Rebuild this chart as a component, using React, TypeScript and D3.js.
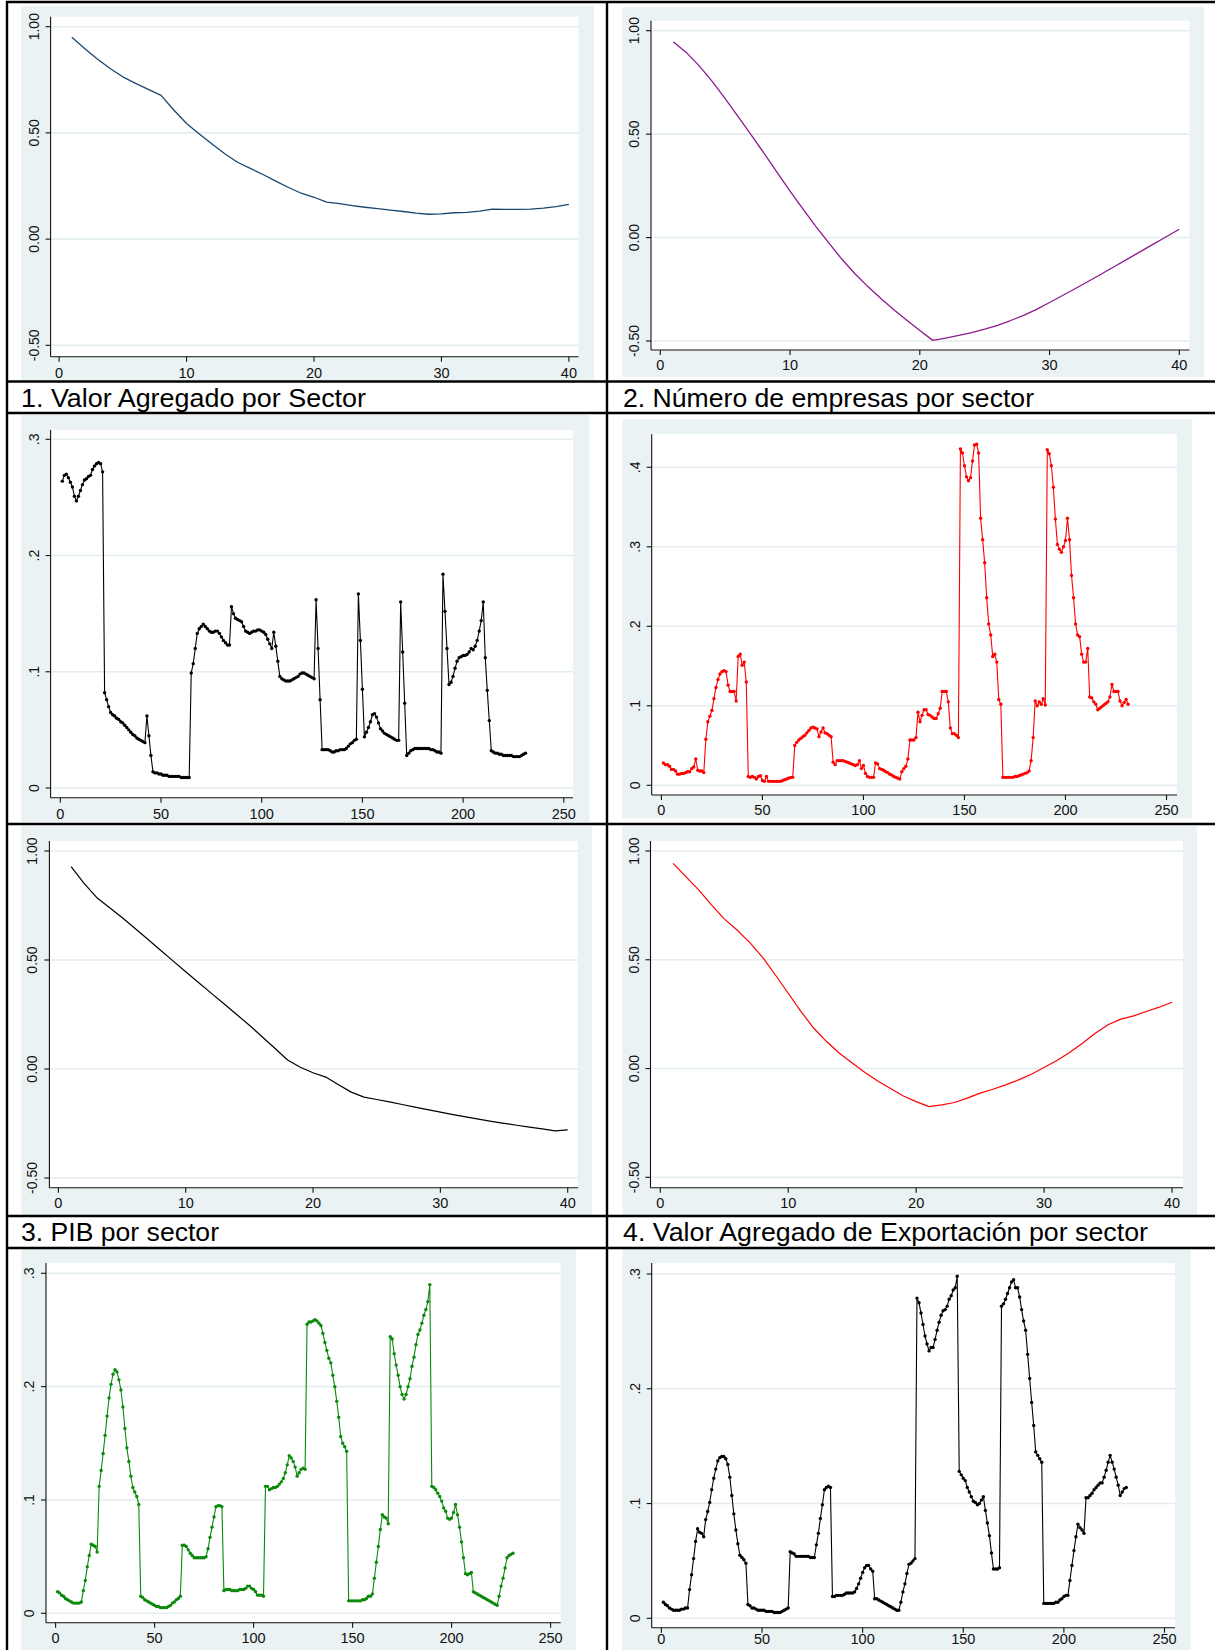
import React from "react";
import * as d3 from "d3";

// ---------- data ----------
const sectors40 = d3.range(1, 41);

const valorAgregado = [
  0.950, 0.897, 0.848, 0.803, 0.764, 0.733, 0.705, 0.677, 0.608, 0.544,
  0.495, 0.448, 0.402, 0.362, 0.333, 0.304, 0.273, 0.243, 0.216, 0.197,
  0.174, 0.167, 0.158, 0.150, 0.143, 0.136, 0.130, 0.122, 0.117, 0.119,
  0.124, 0.126, 0.132, 0.141, 0.140, 0.140, 0.141, 0.146, 0.153, 0.163,
];

const numeroEmpresas = [
  0.947, 0.895, 0.830, 0.755, 0.672, 0.585, 0.496, 0.407, 0.315, 0.224,
  0.137, 0.053, -0.027, -0.105, -0.175, -0.237, -0.295, -0.349, -0.400, -0.449,
  -0.497, -0.486, -0.473, -0.459, -0.443, -0.424, -0.401, -0.376, -0.347, -0.314,
  -0.280, -0.246, -0.211, -0.176, -0.140, -0.104, -0.068, -0.032, 0.004, 0.040,
];

const pibSector = [
  0.928, 0.853, 0.787, 0.741, 0.695, 0.646, 0.596, 0.546, 0.496, 0.446,
  0.397, 0.348, 0.299, 0.250, 0.201, 0.148, 0.095, 0.041, 0.008, -0.017,
  -0.037, -0.072, -0.106, -0.129, -0.140, -0.151, -0.163, -0.175, -0.186, -0.198,
  -0.209, -0.220, -0.230, -0.240, -0.249, -0.258, -0.267, -0.275, -0.284, -0.279,
];

const exportacion = [
  0.943, 0.882, 0.821, 0.752, 0.688, 0.637, 0.579, 0.511, 0.430, 0.346,
  0.262, 0.185, 0.124, 0.070, 0.025, -0.018, -0.057, -0.092, -0.126, -0.152,
  -0.175, -0.167, -0.156, -0.136, -0.113, -0.095, -0.075, -0.052, -0.026, 0.005,
  0.037, 0.074, 0.116, 0.162, 0.201, 0.227, 0.242, 0.262, 0.282, 0.305,
];

const densValorAgregado = [
  0.264, 0.269, 0.270, 0.267, 0.263, 0.259, 0.251, 0.247, 0.251, 0.256,
  0.261, 0.265, 0.266, 0.268, 0.269, 0.274, 0.277, 0.279, 0.280, 0.279,
  0.272, 0.082, 0.076, 0.070, 0.065, 0.063, 0.062, 0.060, 0.059, 0.057,
  0.056, 0.054, 0.052, 0.050, 0.048, 0.046, 0.045, 0.043, 0.042, 0.041,
  0.040, 0.039, 0.062, 0.045, 0.028, 0.014, 0.013, 0.013, 0.012, 0.012,
  0.011, 0.011, 0.011, 0.010, 0.010, 0.010, 0.010, 0.010, 0.010, 0.009,
  0.009, 0.009, 0.009, 0.009, 0.099, 0.107, 0.120, 0.133, 0.137, 0.139,
  0.141, 0.139, 0.137, 0.135, 0.134, 0.134, 0.135, 0.135, 0.133, 0.130,
  0.127, 0.125, 0.123, 0.123, 0.156, 0.150, 0.146, 0.145, 0.144, 0.143,
  0.139, 0.135, 0.134, 0.133, 0.134, 0.135, 0.135, 0.136, 0.136, 0.135,
  0.134, 0.132, 0.128, 0.124, 0.120, 0.134, 0.122, 0.109, 0.096, 0.094,
  0.093, 0.092, 0.092, 0.092, 0.093, 0.094, 0.095, 0.096, 0.098, 0.099,
  0.099, 0.098, 0.097, 0.096, 0.095, 0.094, 0.162, 0.120, 0.076, 0.033,
  0.033, 0.033, 0.033, 0.032, 0.031, 0.031, 0.032, 0.032, 0.033, 0.033,
  0.033, 0.034, 0.036, 0.038, 0.039, 0.041, 0.042, 0.167, 0.127, 0.085,
  0.044, 0.048, 0.052, 0.057, 0.063, 0.064, 0.061, 0.056, 0.051, 0.049,
  0.047, 0.046, 0.045, 0.044, 0.043, 0.042, 0.041, 0.041, 0.160, 0.117,
  0.073, 0.028, 0.030, 0.032, 0.033, 0.034, 0.034, 0.034, 0.034, 0.034,
  0.034, 0.034, 0.034, 0.033, 0.033, 0.032, 0.031, 0.031, 0.030, 0.184,
  0.152, 0.120, 0.089, 0.091, 0.096, 0.103, 0.109, 0.112, 0.113, 0.114,
  0.114, 0.115, 0.117, 0.120, 0.119, 0.122, 0.127, 0.135, 0.144, 0.160,
  0.112, 0.084, 0.058, 0.032, 0.031, 0.030, 0.030, 0.029, 0.029, 0.028,
  0.028, 0.028, 0.028, 0.028, 0.027, 0.027, 0.027, 0.027, 0.028, 0.029,
  0.030,
];

const densEmpresas = [
  0.028, 0.026, 0.026, 0.024, 0.020, 0.020, 0.018, 0.014, 0.014, 0.015,
  0.015, 0.016, 0.017, 0.017, 0.021, 0.023, 0.033, 0.019, 0.018, 0.018,
  0.016, 0.058, 0.080, 0.087, 0.094, 0.109, 0.123, 0.133, 0.140, 0.143,
  0.144, 0.143, 0.126, 0.118, 0.118, 0.118, 0.106, 0.162, 0.165, 0.151,
  0.155, 0.130, 0.011, 0.010, 0.011, 0.010, 0.008, 0.011, 0.012, 0.006,
  0.005, 0.011, 0.005, 0.005, 0.005, 0.005, 0.005, 0.005, 0.005, 0.006,
  0.007, 0.008, 0.009, 0.010, 0.010, 0.050, 0.054, 0.057, 0.059, 0.061,
  0.063, 0.066, 0.069, 0.072, 0.073, 0.072, 0.071, 0.061, 0.067, 0.072,
  0.066, 0.065, 0.063, 0.061, 0.029, 0.026, 0.031, 0.031, 0.031, 0.031,
  0.030, 0.029, 0.028, 0.027, 0.026, 0.025, 0.026, 0.031, 0.021, 0.025,
  0.015, 0.011, 0.010, 0.010, 0.010, 0.028, 0.027, 0.021, 0.020, 0.019,
  0.017, 0.016, 0.014, 0.013, 0.011, 0.010, 0.009, 0.008, 0.017, 0.021,
  0.024, 0.033, 0.057, 0.057, 0.057, 0.060, 0.092, 0.080, 0.088, 0.095,
  0.095, 0.089, 0.088, 0.086, 0.084, 0.084, 0.090, 0.097, 0.118, 0.118,
  0.118, 0.105, 0.072, 0.065, 0.065, 0.063, 0.060, 0.423, 0.418, 0.402,
  0.388, 0.383, 0.387, 0.408, 0.428, 0.429, 0.418, 0.336, 0.309, 0.280,
  0.236, 0.203, 0.189, 0.162, 0.165, 0.155, 0.108, 0.102, 0.010, 0.010,
  0.010, 0.010, 0.010, 0.010, 0.011, 0.011, 0.012, 0.013, 0.014, 0.015,
  0.016, 0.018, 0.031, 0.060, 0.106, 0.100, 0.105, 0.102, 0.109, 0.101,
  0.422, 0.417, 0.402, 0.375, 0.335, 0.303, 0.297, 0.293, 0.300, 0.308,
  0.336, 0.309, 0.264, 0.236, 0.203, 0.189, 0.187, 0.165, 0.155, 0.155,
  0.172, 0.111, 0.110, 0.105, 0.102, 0.095, 0.097, 0.099, 0.101, 0.103,
  0.105, 0.111, 0.127, 0.118, 0.118, 0.118, 0.106, 0.100, 0.104, 0.108,
  0.102,
];

const densPIB = [
  0.019, 0.018, 0.016, 0.015, 0.013, 0.012, 0.011, 0.010, 0.009, 0.009,
  0.009, 0.009, 0.010, 0.020, 0.029, 0.041, 0.051, 0.061, 0.060, 0.059,
  0.054, 0.112, 0.126, 0.141, 0.157, 0.174, 0.190, 0.202, 0.211, 0.215,
  0.213, 0.206, 0.197, 0.182, 0.163, 0.146, 0.134, 0.121, 0.111, 0.107,
  0.103, 0.096, 0.015, 0.014, 0.012, 0.011, 0.010, 0.009, 0.008, 0.007,
  0.006, 0.006, 0.005, 0.005, 0.005, 0.005, 0.006, 0.007, 0.009, 0.010,
  0.012, 0.013, 0.015, 0.060, 0.060, 0.059, 0.056, 0.053, 0.051, 0.049,
  0.049, 0.049, 0.049, 0.049, 0.049, 0.050, 0.057, 0.067, 0.076, 0.085,
  0.094, 0.095, 0.095, 0.094, 0.020, 0.021, 0.021, 0.021, 0.020, 0.020,
  0.020, 0.020, 0.021, 0.021, 0.021, 0.022, 0.024, 0.024, 0.022, 0.021,
  0.019, 0.016, 0.016, 0.016, 0.015, 0.112, 0.112, 0.109, 0.110, 0.111,
  0.111, 0.112, 0.114, 0.116, 0.119, 0.124, 0.131, 0.139, 0.137, 0.134,
  0.129, 0.121, 0.124, 0.127, 0.128, 0.127, 0.255, 0.257, 0.257, 0.258,
  0.259, 0.258, 0.256, 0.254, 0.247, 0.239, 0.232, 0.225, 0.221, 0.210,
  0.200, 0.187, 0.173, 0.156, 0.150, 0.147, 0.143, 0.011, 0.011, 0.011,
  0.011, 0.011, 0.011, 0.011, 0.012, 0.012, 0.013, 0.015, 0.015, 0.017,
  0.031, 0.045, 0.059, 0.074, 0.087, 0.085, 0.084, 0.079, 0.244, 0.242,
  0.229, 0.219, 0.210, 0.200, 0.193, 0.189, 0.193, 0.200, 0.207, 0.218,
  0.226, 0.237, 0.246, 0.250, 0.256, 0.263, 0.268, 0.275, 0.290, 0.112,
  0.111, 0.109, 0.106, 0.103, 0.099, 0.093, 0.090, 0.084, 0.083, 0.084,
  0.089, 0.096, 0.087, 0.076, 0.063, 0.049, 0.035, 0.034, 0.035, 0.036,
  0.019, 0.018, 0.017, 0.016, 0.015, 0.014, 0.013, 0.012, 0.011, 0.010,
  0.009, 0.008, 0.007, 0.015, 0.024, 0.031, 0.040, 0.049, 0.051, 0.052,
  0.053,
];

const densExportacion = [
  0.014, 0.012, 0.011, 0.009, 0.008, 0.007, 0.007, 0.007, 0.007, 0.008,
  0.008, 0.009, 0.009, 0.025, 0.038, 0.052, 0.067, 0.078, 0.075, 0.074,
  0.071, 0.086, 0.093, 0.101, 0.112, 0.122, 0.130, 0.137, 0.140, 0.141,
  0.141, 0.139, 0.134, 0.123, 0.107, 0.091, 0.077, 0.065, 0.055, 0.053,
  0.051, 0.048, 0.012, 0.011, 0.009, 0.009, 0.008, 0.007, 0.007, 0.007,
  0.007, 0.006, 0.006, 0.006, 0.006, 0.005, 0.005, 0.005, 0.005, 0.006,
  0.007, 0.008, 0.009, 0.058, 0.057, 0.056, 0.054, 0.054, 0.054, 0.054,
  0.054, 0.054, 0.054, 0.053, 0.053, 0.053, 0.064, 0.074, 0.087, 0.099,
  0.112, 0.114, 0.115, 0.114, 0.019, 0.019, 0.020, 0.020, 0.020, 0.020,
  0.021, 0.022, 0.022, 0.022, 0.022, 0.023, 0.026, 0.030, 0.035, 0.040,
  0.044, 0.046, 0.046, 0.043, 0.041, 0.017, 0.017, 0.016, 0.015, 0.014,
  0.013, 0.012, 0.011, 0.010, 0.009, 0.008, 0.007, 0.007, 0.014, 0.023,
  0.030, 0.039, 0.047, 0.048, 0.050, 0.052, 0.279, 0.275, 0.266, 0.256,
  0.246, 0.239, 0.233, 0.236, 0.236, 0.243, 0.251, 0.258, 0.264, 0.268,
  0.269, 0.272, 0.278, 0.281, 0.286, 0.288, 0.298, 0.128, 0.125, 0.122,
  0.120, 0.114, 0.110, 0.106, 0.102, 0.101, 0.099, 0.100, 0.103, 0.106,
  0.094, 0.083, 0.072, 0.057, 0.043, 0.043, 0.043, 0.044, 0.272, 0.274,
  0.278, 0.283, 0.288, 0.293, 0.295, 0.288, 0.288, 0.280, 0.269, 0.259,
  0.251, 0.230, 0.209, 0.188, 0.168, 0.145, 0.142, 0.139, 0.136, 0.013,
  0.013, 0.013, 0.013, 0.013, 0.013, 0.014, 0.014, 0.016, 0.017, 0.019,
  0.020, 0.020, 0.033, 0.046, 0.059, 0.071, 0.082, 0.079, 0.077, 0.074,
  0.105, 0.105, 0.107, 0.109, 0.112, 0.114, 0.116, 0.118, 0.118, 0.123,
  0.129, 0.136, 0.142, 0.136, 0.130, 0.123, 0.116, 0.107, 0.110, 0.113,
  0.114,
];

const corrYTicks = [-0.5, 0, 0.5, 1];
const corrXTicks = [0, 10, 20, 30, 40];
const dens3YTicks = [0, 0.1, 0.2, 0.3];
const dens4YTicks = [0, 0.1, 0.2, 0.3, 0.4];
const densXTicks = [0, 50, 100, 150, 200, 250];

const titles = [
  "1. Valor Agregado por Sector",
  "2. Número de empresas por sector",
  "3. PIB por sector",
  "4. Valor Agregado de Exportación por sector",
];

// ---------- layout ----------
type Layout = {
  g: [number, number, number, number]; // gray region x0,x1,y0,y1
  b: [number, number, number, number]; // plot box x0,x1,y0,y1
  yr: [number, number]; // pixel of first / last y tick
  xr: [number, number]; // pixel of first / last x tick
  lab: number; // x tick label baseline offset below axis
};

const L1: Layout = { g: [21, 594, 6, 380], b: [50.6, 578.6, 16.7, 356.7], yr: [345.3, 26.7], xr: [59.1, 568.9], lab: 21 };
const L2: Layout = { g: [622.5, 1204, 6.7, 377], b: [651, 1189.5, 20.7, 350], yr: [341, 30.7], xr: [660.3, 1179.3], lab: 20 };
const L3: Layout = { g: [21.4, 589.5, 415, 822], b: [50.6, 573, 430, 797.7], yr: [788, 439.3], xr: [60.3, 563.8], lab: 21 };
const L4: Layout = { g: [622.5, 1191.8, 419.3, 818], b: [651.7, 1177, 434.3, 795], yr: [785.3, 467.3], xr: [661.4, 1166.5], lab: 20 };
const L5: Layout = { g: [21.4, 592, 826, 1215], b: [49.4, 578, 841, 1187.7], yr: [1178, 851], xr: [58.4, 567.7], lab: 20 };
const L6: Layout = { g: [622.5, 1197, 826, 1215], b: [650.5, 1183, 841, 1187.7], yr: [1177.3, 851], xr: [660.3, 1172], lab: 20 };
const L7: Layout = { g: [21.4, 576, 1249, 1650], b: [46, 560.7, 1263, 1622.7], yr: [1613.3, 1273.3], xr: [55.6, 550.6], lab: 20 };
const L8: Layout = { g: [622.5, 1190.6, 1249, 1650], b: [651.7, 1175, 1263, 1627.7], yr: [1618.3, 1274], xr: [661.4, 1164.5], lab: 16.5 };

const FONT = "'Liberation Sans', Arial, Helvetica, sans-serif";
const BG = "#eaf2f3";
const GRID = "#e3edef";

const fmtCorr = (v: number) => d3.format(".2f")(v).replace("\u2212", "-");
const fmtDens = (v: number) => (v === 0 ? "0" : d3.format(".1f")(v).replace(/^0/, ""));

type PanelProps = {
  L: Layout;
  values: number[];
  xs: number[];
  color: string;
  width: number;
  markers: boolean;
  yTicks: number[];
  xTicks: number[];
  fmt: (v: number) => string;
};

function Panel({ L, values, xs, color, width, markers, yTicks, xTicks, fmt }: PanelProps) {
  const x = d3.scaleLinear().domain([xTicks[0], xTicks[xTicks.length - 1]]).range(L.xr);
  const y = d3.scaleLinear().domain([yTicks[0], yTicks[yTicks.length - 1]]).range(L.yr);
  const pts: [number, number][] = values.map((v, i) => [xs[i], v]);
  const line = d3
    .line<[number, number]>()
    .x((d) => x(d[0]))
    .y((d) => y(d[1]));
  const [bx0, bx1, by0, by1] = L.b;
  const [gx0, gx1, gy0, gy1] = L.g;
  return (
    <g>
      <rect x={gx0} y={gy0} width={gx1 - gx0} height={gy1 - gy0} fill={BG} />
      <rect x={bx0} y={by0} width={bx1 - bx0} height={by1 - by0} fill="#ffffff" />
      {yTicks.map((t) => (
        <line key={"g" + t} x1={bx0} x2={bx1} y1={y(t)} y2={y(t)} stroke={GRID} strokeWidth={1.6} />
      ))}
      <path d={line(pts) || ""} fill="none" stroke={color} strokeWidth={width} strokeLinejoin="round" />
      {markers &&
        pts.map((d, i) => <circle key={i} cx={x(d[0])} cy={y(d[1])} r={1.7} fill={color} />)}
      <line x1={bx0} x2={bx0} y1={by0} y2={by1} stroke="#111" strokeWidth={1.1} />
      <line x1={bx0} x2={bx1} y1={by1} y2={by1} stroke="#111" strokeWidth={1.1} />
      {yTicks.map((t) => (
        <g key={"y" + t}>
          <line x1={bx0 - 5} x2={bx0} y1={y(t)} y2={y(t)} stroke="#111" strokeWidth={1.1} />
          <text
            transform={`translate(${bx0 - 12},${y(t)}) rotate(-90)`}
            textAnchor="middle"
            fontFamily={FONT}
            fontSize={14}
            fill="#111"
          >
            {fmt(t)}
          </text>
        </g>
      ))}
      {xTicks.map((t) => (
        <g key={"x" + t}>
          <line x1={x(t)} x2={x(t)} y1={by1} y2={by1 + 5} stroke="#111" strokeWidth={1.1} />
          <text x={x(t)} y={by1 + L.lab} textAnchor="middle" fontFamily={FONT} fontSize={14.5} fill="#111">
            {t}
          </text>
        </g>
      ))}
    </g>
  );
}

export default function App() {
  const densXs = d3.range(1, densValorAgregado.length + 1);
  const hLines = [2, 381.5, 413, 824, 1216, 1248];
  const vLines = [7, 607];
  return (
    <svg
      width={1215}
      height={1650}
      viewBox="0 0 1215 1650"
      style={{ position: "absolute", left: 0, top: 0, background: "#fff" }}
    >
      <rect x={0} y={0} width={1215} height={1650} fill="#fff" />
      <Panel L={L1} values={valorAgregado} xs={sectors40} color="#1a476f" width={1.3} markers={false} yTicks={corrYTicks} xTicks={corrXTicks} fmt={fmtCorr} />
      <Panel L={L2} values={numeroEmpresas} xs={sectors40} color="#8e1a8e" width={1.3} markers={false} yTicks={corrYTicks} xTicks={corrXTicks} fmt={fmtCorr} />
      <Panel L={L3} values={densValorAgregado} xs={densXs} color="#000000" width={1.1} markers={true} yTicks={dens3YTicks} xTicks={densXTicks} fmt={fmtDens} />
      <Panel L={L4} values={densEmpresas} xs={densXs} color="#ff0000" width={1.1} markers={true} yTicks={dens4YTicks} xTicks={densXTicks} fmt={fmtDens} />
      <Panel L={L5} values={pibSector} xs={sectors40} color="#000000" width={1.2} markers={false} yTicks={corrYTicks} xTicks={corrXTicks} fmt={fmtCorr} />
      <Panel L={L6} values={exportacion} xs={sectors40} color="#ff0000" width={1.2} markers={false} yTicks={corrYTicks} xTicks={corrXTicks} fmt={fmtCorr} />
      <Panel L={L7} values={densPIB} xs={densXs} color="#0a8a0a" width={1.1} markers={true} yTicks={dens3YTicks} xTicks={densXTicks} fmt={fmtDens} />
      <Panel L={L8} values={densExportacion} xs={densXs} color="#000000" width={1.1} markers={true} yTicks={dens3YTicks} xTicks={densXTicks} fmt={fmtDens} />

      {hLines.map((yy) => (
        <line key={"h" + yy} x1={6} x2={1215} y1={yy} y2={yy} stroke="#000" strokeWidth={2.4} />
      ))}
      {vLines.map((xx) => (
        <line key={"v" + xx} x1={xx} x2={xx} y1={1} y2={1650} stroke="#000" strokeWidth={2.4} />
      ))}

      <text x={21} y={407} fontFamily={FONT} fontSize={25} textLength={345} lengthAdjust="spacingAndGlyphs" fill="#000">{titles[0]}</text>
      <text x={623} y={407} fontFamily={FONT} fontSize={25} textLength={411} lengthAdjust="spacingAndGlyphs" fill="#000">{titles[1]}</text>
      <text x={21} y={1241} fontFamily={FONT} fontSize={25} textLength={198} lengthAdjust="spacingAndGlyphs" fill="#000">{titles[2]}</text>
      <text x={623} y={1241} fontFamily={FONT} fontSize={25} textLength={525} lengthAdjust="spacingAndGlyphs" fill="#000">{titles[3]}</text>
    </svg>
  );
}
